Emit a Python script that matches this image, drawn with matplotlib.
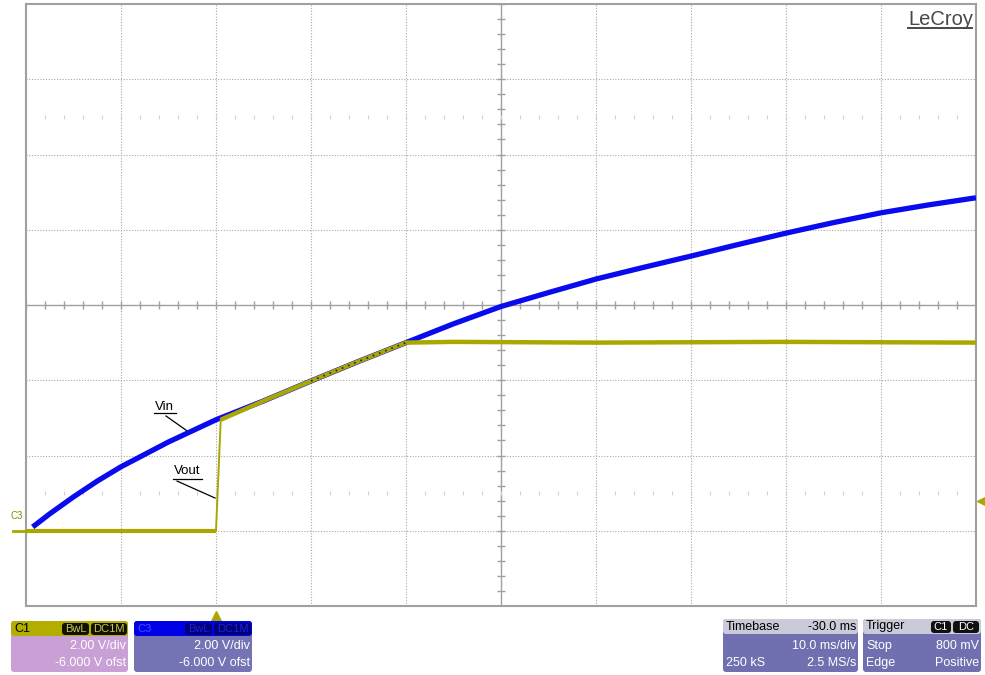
import matplotlib.pyplot as plt
from matplotlib.patches import FancyBboxPatch
from matplotlib.lines import Line2D

plt.rcParams['font.family'] = ['Liberation Sans', 'DejaVu Sans']

# time in ms relative to trigger, amplitude in volts
vin_t = [-19.3, -17.5, -15, -12.5, -10, -5, 0, 5, 10, 15, 20, 25, 30, 35, 40, 45, 50, 55, 60, 65, 70, 75, 80]
vin_v = [0.10, 0.45, 0.90, 1.32, 1.70, 2.36, 2.95, 3.45, 3.98, 4.50, 5.00, 5.50, 5.96, 6.33, 6.69, 7.00, 7.30, 7.61, 7.91, 8.19, 8.45, 8.66, 8.85]

vout_t = [-20, 0, 0.5, 5, 10, 15, 20, 25, 40, 60, 80]
vout_v = [0.0, 0.0, 2.95, 3.45, 3.98, 4.50, 5.00, 5.02, 5.00, 5.02, 5.00]

trig_level = 0.8
t_min, t_max = -20, 80      # 10 ms/div, delay -30 ms
v_min, v_max = -2, 14       # 2 V/div, -6 V offset

W, H = 985, 675
fig = plt.figure(figsize=(W / 100, H / 100), dpi=100)
fig.patch.set_facecolor('white')

ax = fig.add_axes([26 / W, 1 - 606 / H, 950 / W, 602 / H])
ax.set_xlim(t_min, t_max)
ax.set_ylim(v_min, v_max)
ax.set_xticks([])
ax.set_yticks([])
for s in ax.spines.values():
    s.set_color('#a0a0a0')
    s.set_linewidth(1.5)

grid_c = '#a8a8a8'
for x in range(-10, 80, 10):
    if x != 30:
        ax.axvline(x, color=grid_c, lw=0.8, ls=(0, (1, 1.5)), zorder=1)
for y in range(0, 14, 2):
    if y != 6:
        ax.axhline(y, color=grid_c, lw=0.8, ls=(0, (1, 1.5)), zorder=1)

# centre cross with minor ticks
ax.axhline(6, color='#a0a0a0', lw=1, zorder=1)
ax.axvline(30, color='#a0a0a0', lw=1, zorder=1)
xt = [x for x in range(-20, 81, 2)]
yt = [v_min + 0.4 * i for i in range(41)]
ax.vlines(xt, 6 - 0.11, 6 + 0.11, color='#a0a0a0', lw=1, zorder=1)
ax.hlines(yt, 30 - 0.42, 30 + 0.42, color='#a0a0a0', lw=1, zorder=1)
# faint dot rows
ax.vlines(xt, [1 - 0.05] * len(xt), [1 + 0.05] * len(xt), color='#d0d0d0', lw=0.8, zorder=1)
ax.vlines(xt, [11 - 0.05] * len(xt), [11 + 0.05] * len(xt), color='#d0d0d0', lw=0.8, zorder=1)

blue = '#0a0aee'
olive = '#aaa800'

ax.plot(vin_t, vin_v, color=blue, lw=3.8, solid_capstyle='butt', zorder=3)
ax.plot(vout_t[:2], vout_v[:2], color=olive, lw=3.0, solid_capstyle='butt', zorder=4)
ax.plot(vout_t[1:3], vout_v[1:3], color=olive, lw=1.4, zorder=4)
ax.plot(vout_t[2:], vout_v[2:], color=olive, lw=3.2, solid_capstyle='butt', zorder=4)
ax.plot(vin_t[8:11], vin_v[8:11], color='#202020', lw=1.2, ls=(0, (1, 3)), zorder=5)

# ground marker, trigger markers
ax.plot([-21.4, t_min], [0, 0], color=olive, lw=2, clip_on=False, zorder=4)
ax.text(-21.6, 0.25, 'C3', fontsize=7, color='#8a8800', ha='left', va='bottom')
ax.plot([0], [-0.016], marker='^', ms=7, color=olive, clip_on=False, zorder=5,
        transform=ax.get_xaxis_transform())
ax.plot([80.6], [trig_level], marker='<', ms=7, color=olive, clip_on=False, zorder=5)

# trace labels
ax.text(-5.4, 3.29, 'Vin', fontsize=9.5, ha='center', va='center')
ax.plot([-6.5, -4.2], [3.13, 3.13], color='black', lw=0.9)
ax.plot([-5.26, -2.74], [3.05, 2.60], color='black', lw=0.9)
ax.text(-3.0, 1.58, 'Vout', fontsize=9.5, ha='center', va='center')
ax.plot([-4.5, -1.5], [1.38, 1.38], color='black', lw=0.9)
ax.plot([-4.1, -0.1], [1.32, 0.87], color='black', lw=0.9)

ax.text(0.997, 0.99, 'LeCroy', transform=ax.transAxes, fontsize=14.5,
        color='#484848', ha='right', va='top')
fig.add_artist(Line2D([908 / W, 972 / W], [1 - 28 / H, 1 - 28 / H],
                      color='#484848', lw=1.4))


def box(x0, y0, x1, y1, color, r=3, z=1):
    p = FancyBboxPatch((x0 / W, 1 - y1 / H), (x1 - x0) / W, (y1 - y0) / H,
                       boxstyle=f'round,pad=0,rounding_size={r / W}',
                       mutation_aspect=W / H, transform=fig.transFigure,
                       facecolor=color, edgecolor='none', zorder=z)
    fig.add_artist(p)


def txt(x, y, s, color='white', ha='left', size=9):
    fig.text(x / W, 1 - y / H, s, color=color, ha=ha, va='center', fontsize=size)


# channel panels
box(11, 621, 128, 672, '#c9a0d6')
box(11, 621, 128, 636, '#b2ae00', z=2)
txt(14, 628.5, 'C1', color='black')
box(62, 623, 89, 635, '#111100', z=3)
box(91, 623, 127, 635, '#111100', z=3)
txt(75.5, 629, 'BwL', color='#c8c460', ha='center', size=8)
txt(109, 629, 'DC1M', color='#c8c460', ha='center', size=8)
txt(126, 646, '2.00 V/div', ha='right')
txt(126, 663, '-6.000 V ofst', ha='right')

box(134, 621, 252, 672, '#7474b4')
box(134, 621, 252, 636, '#0000e6', z=2)
txt(137, 628.5, 'C3', color='#4a4aff', size=8)
box(185, 623, 212, 635, '#00007a', z=3)
box(214, 623, 251, 635, '#00007a', z=3)
txt(198.5, 629, 'BwL', color='#2020d0', ha='center', size=8)
txt(232.5, 629, 'DC1M', color='#2020d0', ha='center', size=8)
txt(250, 646, '2.00 V/div', ha='right')
txt(250, 663, '-6.000 V ofst', ha='right')

# timebase / trigger panels
box(723, 619, 858, 672, '#7070b0')
box(723, 619, 858, 634, '#cacad8', z=2)
txt(726, 626.5, 'Timebase', color='black')
txt(856, 626.5, '-30.0 ms', color='black', ha='right')
txt(856, 646, '10.0 ms/div', ha='right')
txt(726, 663, '250 kS')
txt(856, 663, '2.5 MS/s', ha='right')

box(863, 619, 981, 672, '#7070b0')
box(863, 619, 981, 634, '#cacad8', z=2)
txt(866, 626.5, 'Trigger', color='black')
box(931, 621, 951, 633, '#101010', z=3)
box(953, 621, 979, 633, '#101010', z=3)
txt(941, 627, 'C1', ha='center', size=8)
txt(966, 627, 'DC', ha='center', size=8)
txt(866, 646, 'Stop')
txt(979, 646, '800 mV', ha='right')
txt(866, 663, 'Edge')
txt(979, 663, 'Positive', ha='right')

fig.savefig('out.png', dpi=100)
